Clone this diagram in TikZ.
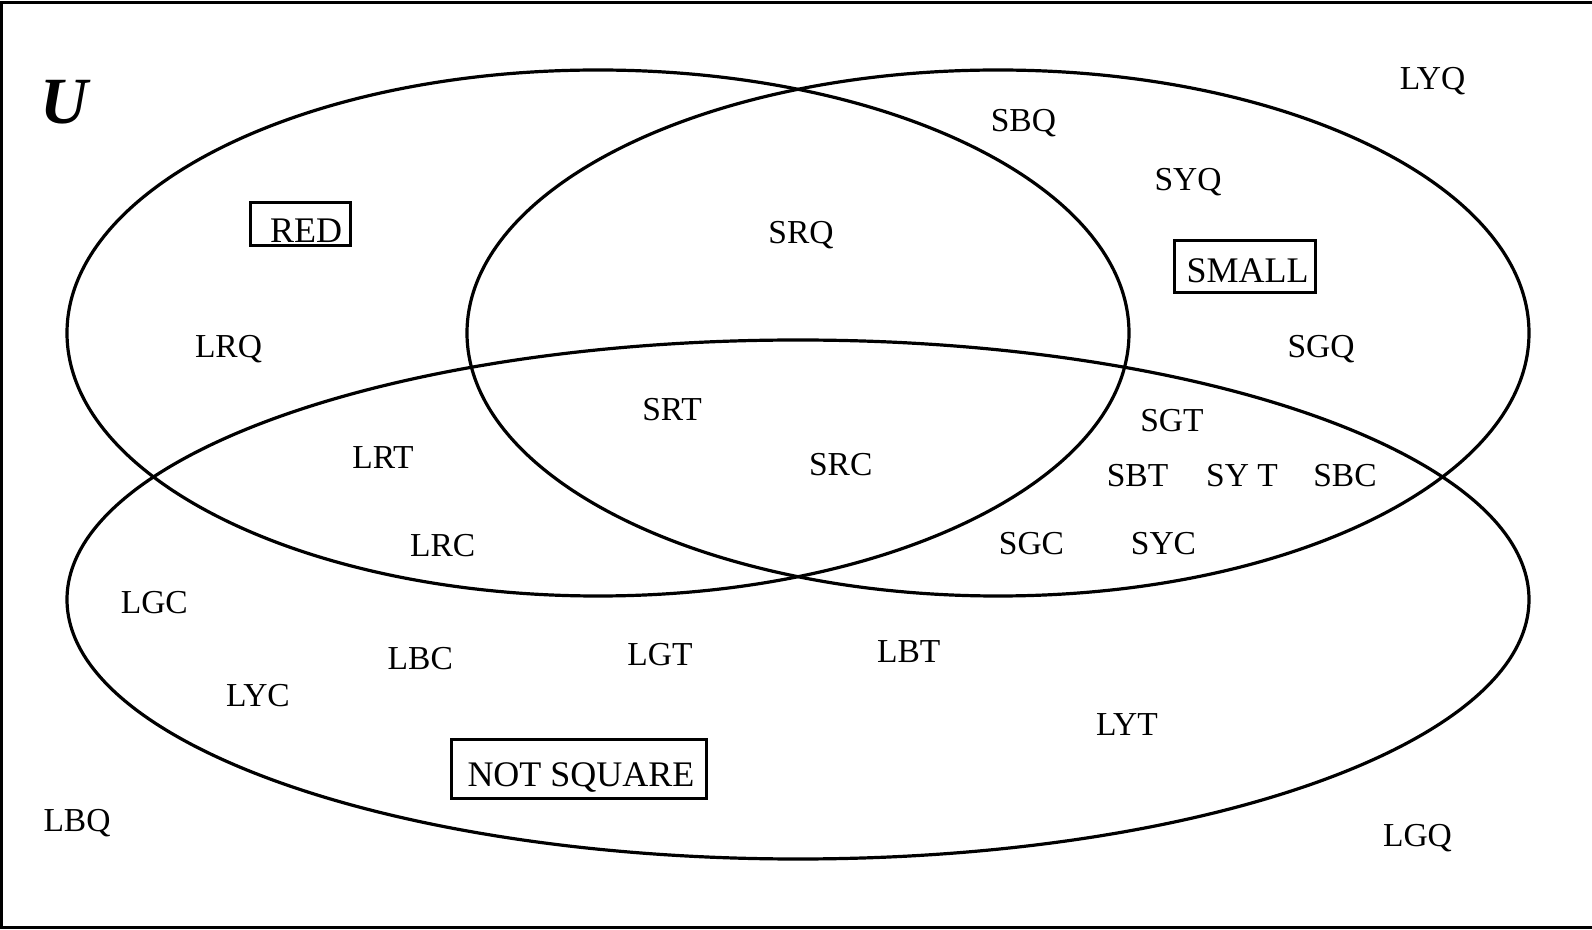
\documentclass[tikz,border=0pt]{standalone}
\usepackage{fontspec}
\setmainfont{Liberation Serif}
\begin{document}
\begin{tikzpicture}[x=0.5pt,y=-0.5pt,
  lbl/.style={font=\fontsize{16.75pt}{20pt}\selectfont, anchor=base, inner sep=0pt},
  setline/.style={line width=1.6pt},
  labelbox/.style={draw, line width=1.9pt, inner sep=0pt, text depth=0pt,
    font=\fontsize{18pt}{21pt}\selectfont}]
\useasboundingbox (0,0) rectangle (1592,930);
% frame
\draw[line width=1.6pt] (1620,2.5) -- (1,2.5) -- (1,927.5) -- (1620,927.5);
% sets
\draw[setline] (598,333) ellipse [x radius=265.5pt, y radius=131.5pt];
\draw[setline] (998,333) ellipse [x radius=265.5pt, y radius=131.5pt];
\draw[setline] (798,599.5) ellipse [x radius=365.5pt, y radius=129.75pt];
% universe
\node[anchor=base, inner sep=0pt, font=\fontsize{33pt}{36pt}\selectfont\bfseries\itshape] (U) at (64,124) {U};
% set names
\node[labelbox, minimum width=50pt, minimum height=21.5pt, text height=19pt] (red) at (300.5,224) {\hspace{5.5pt}RED};
\node[labelbox, minimum width=70.5pt, minimum height=26pt, text height=16.5pt] (small) at (1245,266.5) {\hspace{2.5pt}SMALL};
\node[labelbox, minimum width=127.5pt, minimum height=29.5pt, text height=17.5pt] (notsq) at (579,769) {\hspace{2pt}NOT SQUARE};
% elements
\node[lbl] (LYQ) at (1432.6,90) {LYQ};
\node[lbl] (SBQ) at (1023.4,132) {SBQ};
\node[lbl] (SYQ) at (1188,191) {SYQ};
\node[lbl] (SRQ) at (801,243.5) {SRQ};
\node[lbl] (LRQ) at (228.5,358) {LRQ};
\node[lbl] (SGQ) at (1321,358) {SGQ};
\node[lbl] (SRT) at (672,421) {SRT};
\node[lbl] (SGT) at (1172,431.5) {SGT};
\node[lbl] (LRT) at (383,469) {LRT};
\node[lbl] (SRC) at (840.7,476) {SRC};
\node[lbl] (SBT) at (1137.5,487) {SBT};
\node[lbl] (SYT) at (1242,487) {SY T};
\node[lbl] (SBC) at (1345,487) {SBC};
\node[lbl] (LRC) at (442.7,557) {LRC};
\node[lbl] (SGC) at (1031.5,555) {SGC};
\node[lbl] (SYC) at (1163.5,554.5) {SYC};
\node[lbl] (LGC) at (154.3,614) {LGC};
\node[lbl] (LBC) at (420.3,669) {LBC};
\node[lbl] (LGT) at (660,666) {LGT};
\node[lbl] (LBT) at (908.7,662) {LBT};
\node[lbl] (LYC) at (258,706.5) {LYC};
\node[lbl] (LYT) at (1127,735) {LYT};
\node[lbl] (LBQ) at (77,831.5) {LBQ};
\node[lbl] (LGQ) at (1417.5,846.5) {LGQ};
\end{tikzpicture}
\end{document}
